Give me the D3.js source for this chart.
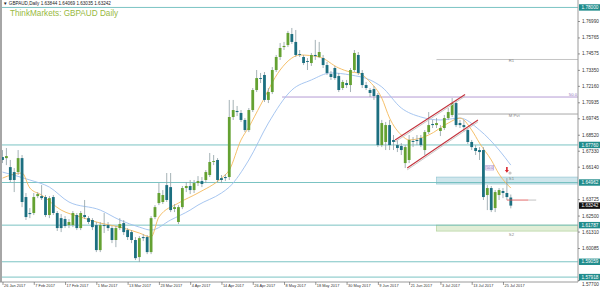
<!DOCTYPE html>
<html lang="en">
<head>
<meta charset="UTF-8">
<title>GBPAUD Daily</title>
<style>
  body { margin: 0; background: #fff; }
  svg { display: block; font-family: "Liberation Sans", Arial, sans-serif; }
  .paxis text { font-size: 4.7px; fill: #333; }
  .daxis text { font-size: 3.9px; fill: #333; }
  .paxis line, .daxis line { stroke: #555; stroke-width: 0.6; }
  .paxis path, .daxis path { display: none; }
</style>
</head>
<body>
<svg width="600" height="293"></svg>
<script src="https://d3js.org/d3.v7.min.js"></script>
<script>
// bar 0 = 26 Jan 2017, one bar per weekday
const dateTicks = [0, 8, 16, 24, 32, 40, 48, 56, 64, 72, 80, 88, 96, 104, 112, 120, 128];
const dateLabels = ["26 Jan 2017", "7 Feb 2017", "17 Feb 2017", "1 Mar 2017", "13 Mar 2017", "23 Mar 2017",
  "4 Apr 2017", "14 Apr 2017", "26 Apr 2017", "8 May 2017", "18 May 2017", "30 May 2017", "9 Jun 2017",
  "21 Jun 2017", "3 Jul 2017", "13 Jul 2017", "25 Jul 2017"];

const opens = [1.6686,1.6678,1.6611,1.6574,1.6574,1.6678,1.6388,1.6269,1.6269,1.6395,1.6395,1.6388,1.6254,1.6388,1.6269,1.6231,1.6224,1.6179,1.6179,1.6254,
  1.6157,1.6254,1.6231,1.6217,1.6179,1.5993,1.6179,1.6179,1.6157,1.6068,1.6157,1.6194,1.6142,1.6127,1.6068,1.5941,1.6090,1.6090,1.5978,1.6239,
  1.6343,1.6351,1.6477,1.6462,1.6299,1.6202,1.6313,1.6455,1.6470,1.6440,1.6492,1.6507,1.6515,1.6552,1.6649,1.6664,1.6529,1.6537,1.6537,1.6984,
  1.7029,1.7014,1.6962,1.6887,1.7036,1.7185,1.7274,1.7297,1.7111,1.7170,1.7334,1.7431,1.7505,1.7520,1.7602,1.7543,1.7453,1.7431,1.7401,1.7386,
  1.7446,1.7431,1.7423,1.7371,1.7304,1.7349,1.7289,1.7200,1.7237,1.7222,1.7334,1.7446,1.7312,1.7222,1.7185,1.7192,1.7148,1.6775,1.6798,1.6924,
  1.6813,1.6775,1.6768,1.6641,1.6664,1.6805,1.6813,1.6827,1.6738,1.6872,1.6932,1.6924,1.6880,1.6902,1.6976,1.6999,1.7088,1.6939,1.6924,1.6887,
  1.6798,1.6753,1.6738,1.6738,1.6403,1.6455,1.6306,1.6403,1.6433,1.6418,1.63844];
const highs = [1.6738,1.6753,1.6664,1.6604,1.6738,1.6701,1.6418,1.6306,1.6418,1.6425,1.6477,1.6403,1.6395,1.6403,1.6284,1.6261,1.6246,1.6224,1.6284,1.6269,
  1.6284,1.6366,1.6246,1.6231,1.6202,1.6202,1.6269,1.6202,1.6172,1.6172,1.6231,1.6217,1.6157,1.6142,1.6090,1.6097,1.6112,1.6105,1.6246,1.6328,
  1.6492,1.6440,1.6567,1.6567,1.6336,1.6328,1.6470,1.6500,1.6515,1.6515,1.6544,1.6537,1.6589,1.6716,1.6701,1.6678,1.6552,1.6559,1.7111,1.7111,
  1.7066,1.7036,1.6976,1.7051,1.7200,1.7334,1.7312,1.7319,1.7200,1.7356,1.7446,1.7535,1.7543,1.7625,1.7647,1.7632,1.7483,1.7446,1.7423,1.7461,
  1.7558,1.7543,1.7446,1.7394,1.7327,1.7364,1.7312,1.7260,1.7260,1.7349,1.7483,1.7468,1.7334,1.7245,1.7200,1.7215,1.7163,1.6962,1.6947,1.6962,
  1.6850,1.6813,1.6790,1.6775,1.6850,1.6835,1.6850,1.6850,1.6887,1.7021,1.6962,1.6976,1.6924,1.6999,1.7051,1.7125,1.7111,1.6962,1.6962,1.6902,
  1.6813,1.6775,1.6760,1.6760,1.6477,1.6470,1.6440,1.6455,1.6455,1.6529,1.64069];
const lows = [1.6641,1.6626,1.6500,1.6425,1.6552,1.6313,1.6217,1.6231,1.6254,1.6380,1.6366,1.6239,1.6231,1.6254,1.6135,1.6127,1.6157,1.6157,1.6164,1.6142,
  1.6142,1.6224,1.6187,1.6142,1.5978,1.5978,1.6120,1.6135,1.6045,1.6015,1.6142,1.6105,1.6068,1.6045,1.5919,1.5904,1.6060,1.5963,1.5963,1.6224,
  1.6328,1.6336,1.6351,1.6276,1.6276,1.6187,1.6298,1.6425,1.6410,1.6418,1.6470,1.6462,1.6492,1.6537,1.6626,1.6500,1.6492,1.6507,1.6515,1.6962,
  1.6991,1.6947,1.6872,1.6872,1.7021,1.7170,1.7237,1.7096,1.7088,1.7155,1.7319,1.7409,1.7483,1.7505,1.7528,1.7431,1.7431,1.7371,1.7334,1.7364,
  1.7409,1.7423,1.7349,1.7297,1.7260,1.7260,1.7170,1.7185,1.7200,1.7170,1.7319,1.7297,1.7200,1.7185,1.7133,1.7111,1.6760,1.6760,1.6738,1.6738,
  1.6738,1.6723,1.6701,1.6604,1.6641,1.6760,1.6775,1.6760,1.6701,1.6857,1.6902,1.6902,1.6842,1.6887,1.6962,1.6984,1.6909,1.6902,1.6872,1.6783,
  1.6738,1.6701,1.6664,1.6366,1.6291,1.6276,1.6276,1.6366,1.6380,1.6366,1.63035];
const closes = [1.6664,1.6693,1.6515,1.6515,1.6678,1.6351,1.6239,1.6261,1.6388,1.6410,1.6380,1.6254,1.6380,1.6269,1.6157,1.6157,1.6172,1.6202,1.6269,1.6157,
  1.6269,1.6239,1.6202,1.6164,1.5993,1.6179,1.6172,1.6157,1.6068,1.6157,1.6187,1.6127,1.6090,1.6068,1.5933,1.6082,1.6082,1.5978,1.6231,1.6313,
  1.6418,1.6403,1.6366,1.6291,1.6313,1.6313,1.6455,1.6470,1.6440,1.6492,1.6507,1.6485,1.6574,1.6649,1.6656,1.6515,1.6515,1.6529,1.6984,1.7036,
  1.7021,1.6962,1.6887,1.7036,1.7185,1.7274,1.7267,1.7111,1.7170,1.7334,1.7431,1.7498,1.7513,1.7610,1.7543,1.7446,1.7446,1.7386,1.7394,1.7446,
  1.7438,1.7468,1.7371,1.7312,1.7282,1.7274,1.7185,1.7245,1.7222,1.7334,1.7461,1.7312,1.7222,1.7200,1.7163,1.7140,1.6775,1.6939,1.6924,1.6775,
  1.6798,1.6753,1.6738,1.6760,1.6813,1.6798,1.6805,1.6775,1.6872,1.6924,1.6924,1.6939,1.6902,1.6976,1.7021,1.7088,1.6924,1.6924,1.6909,1.6798,
  1.6760,1.6731,1.6723,1.6388,1.6455,1.6291,1.6425,1.6440,1.6418,1.6388,1.63242];

// moving averages: [bar, price]
const maFast = [[0,1.6529],[5,1.6567],[7,1.6455],[10,1.6403],[15,1.6291],[20,1.6239],[25,1.6194],[30,1.6164],[35,1.6120],[38,1.6090],
  [40,1.6239],[45,1.6343],[50,1.6418],[56,1.6529],[58,1.6589],[61,1.6813],[63,1.6909],[66,1.7073],[71,1.7334],[74,1.7423],[76,1.7446],
  [81,1.7431],[86,1.7349],[89,1.7319],[91,1.7312],[94,1.7245],[97,1.7125],[99,1.6976],[102,1.6850],[104,1.6813],[109,1.6850],[114,1.6939],
  [117,1.6976],[120,1.6887],[122,1.6790],[125,1.6664],[127,1.6559],[130,1.6455]];
const maSlow = [[0,1.6574],[7,1.6515],[12,1.6462],[17,1.6351],[25,1.6291],[30,1.6217],[35,1.6164],[38,1.6142],[43,1.6217],[48,1.6291],
  [50,1.6328],[56,1.6418],[58,1.6462],[63,1.6664],[68,1.6939],[74,1.7185],[79,1.7260],[84,1.7312],[89,1.7297],[94,1.7260],[97,1.7208],
  [102,1.7051],[107,1.6984],[112,1.6962],[117,1.6976],[122,1.6887],[127,1.6738],[130,1.6626]];

const priceTicks = [1.76990, 1.75765, 1.74575, 1.73350, 1.72160, 1.70935, 1.69745, 1.68520, 1.67330, 1.66140, 1.63725, 1.62500, 1.61310, 1.60085, 1.57700];
const levels = [1.78000, 1.67760, 1.64962, 1.61787, 1.59059, 1.57918];
const lastPrice = 1.63242;

// channel lines [bar, price] pairs
const channelUpper = [[100.4, 1.68125], [118.3, 1.71516]];
const channelLower = [[103.5, 1.66039], [121.6, 1.69615]];

const svg = d3.select("svg");
const plotR = 578, plotB = 282;

const x = d3.scaleLinear().domain([0, 130]).range([2.5, 510.8]);
const y = d3.scaleLinear().domain([1.76990, 1.60085]).range([21, 248]);

svg.append("rect").attr("width", 600).attr("height", 293).attr("fill", "#fff");
svg.append("defs").append("clipPath").attr("id", "clip")
  .append("rect").attr("x", 2).attr("y", 0).attr("width", plotR - 2).attr("height", plotB);

const plot = svg.append("g").attr("clip-path", "url(#clip)");

// shaded zones
const zones = [
  { from: 111, top: 1.65368, bottom: 1.64847, fill: "#cfe6ec", stroke: "#8cc3cf" },
  { from: 111, top: 1.61792, bottom: 1.61345, fill: "#e1eed6", stroke: "#a9cc8e" }
];
plot.selectAll(".zone").data(zones).enter().append("rect")
  .attr("x", d => x(d.from)).attr("width", d => plotR - x(d.from))
  .attr("y", d => y(d.top)).attr("height", d => y(d.bottom) - y(d.top))
  .attr("fill", d => d.fill).attr("stroke", d => d.stroke).attr("stroke-width", 0.6);

// full-width support/resistance levels
plot.selectAll(".lvl").data(levels).enter().append("line")
  .attr("x1", 0).attr("x2", plotR)
  .attr("y1", d => y(d)).attr("y2", d => y(d))
  .attr("stroke", "#6cbcbc").attr("stroke-width", 0.9);

// pivot lines
const pivots = [
  { from: 111, price: 1.74124, label: "R1", color: "#bdbdbd" },
  { from: 116.5, price: 1.70062, label: "M Pvt", color: "#9e9e9e" }
];
plot.selectAll(".pv").data(pivots).enter().append("line")
  .attr("x1", d => x(d.from)).attr("x2", plotR)
  .attr("y1", d => y(d.price)).attr("y2", d => y(d.price))
  .attr("stroke", d => d.color).attr("stroke-width", 0.9);
const pivotTags = pivots.concat([
  { price: 1.65368, label: "S1" },
  { price: 1.61345, label: "S2", below: true }
]);
plot.selectAll(".pvt").data(pivotTags).enter().append("text")
  .attr("x", x(129.5)).attr("y", d => d.below ? y(d.price) + 5 : y(d.price) + 2.5)
  .attr("font-size", 4.2).attr("fill", "#888").text(d => d.label);

// fib 50% line
plot.append("line")
  .attr("x1", x(71.5)).attr("x2", plotR)
  .attr("y1", y(1.71328)).attr("y2", y(1.71328))
  .attr("stroke", "#b49bd4").attr("stroke-width", 1);
plot.append("text").attr("x", plotR - 1).attr("y", y(1.71328) - 1)
  .attr("text-anchor", "end").attr("font-size", 4.2).attr("fill", "#8d6fb8").text("50.0");

// moving averages
const maLine = d3.line().x(d => x(d[0])).y(d => y(d[1])).curve(d3.curveMonotoneX);
plot.append("path").datum(maSlow).attr("d", maLine)
  .attr("fill", "none").attr("stroke", "#9dbfee").attr("stroke-width", 0.9);
plot.append("path").datum(maFast).attr("d", maLine)
  .attr("fill", "none").attr("stroke", "#f4b95a").attr("stroke-width", 0.9);

// candles
const bars = closes.map((c, i) => ({ i, o: opens[i], h: highs[i], l: lows[i], c }));
const bodyW = 2.8;
plot.selectAll(".wick").data(bars).enter().append("line")
  .attr("x1", d => x(d.i)).attr("x2", d => x(d.i))
  .attr("y1", d => y(d.h)).attr("y2", d => y(d.l))
  .attr("stroke", "#8e9ea3").attr("stroke-width", 0.8);
plot.selectAll(".body").data(bars).enter().append("rect")
  .attr("x", d => x(d.i) - bodyW / 2).attr("width", bodyW)
  .attr("y", d => y(Math.max(d.o, d.c)))
  .attr("height", d => Math.max(0.8, Math.abs(y(d.o) - y(d.c))))
  .attr("fill", d => d.c >= d.o ? "#64a132" : "#1c6f80");

// channel
[channelUpper, channelLower].forEach(seg => {
  plot.append("line")
    .attr("x1", x(seg[0][0])).attr("y1", y(seg[0][1]) + 1.8)
    .attr("x2", x(seg[1][0])).attr("y2", y(seg[1][1]) + 1.8)
    .attr("stroke", "#c9c9c9").attr("stroke-width", 1);
  plot.append("line")
    .attr("x1", x(seg[0][0])).attr("y1", y(seg[0][1]))
    .attr("x2", x(seg[1][0])).attr("y2", y(seg[1][1]))
    .attr("stroke", "#c4323c").attr("stroke-width", 1.1);
});

// small fib tag next to the breakdown candle
plot.append("rect").attr("x", x(123.6)).attr("y", y(1.6604) - 2.4).attr("width", 8).attr("height", 4.4)
  .attr("fill", "#f3eefa").attr("stroke", "#a58bd0").attr("stroke-width", 0.5);
plot.append("text").attr("x", x(123.6) + 4).attr("y", y(1.6604) + 1.3).attr("text-anchor", "middle")
  .attr("font-size", 3.6).attr("fill", "#7d5fb0").text("50.0");

// entry line + arrow
plot.append("line").attr("x1", x(129)).attr("x2", x(134.5))
  .attr("y1", y(1.63655)).attr("y2", y(1.63655))
  .attr("stroke", "#e05a5a").attr("stroke-width", 0.9);
plot.append("line").attr("x1", x(134.5)).attr("x2", x(136.5))
  .attr("y1", y(1.63655)).attr("y2", y(1.63655))
  .attr("stroke", "#bbb").attr("stroke-width", 0.9);
plot.append("circle").attr("cx", x(129.8)).attr("cy", y(1.6567)).attr("r", 1.6).attr("fill", "#c8c8c8");
plot.append("path")
  .attr("transform", `translate(${x(129)},${y(1.6589)})`)
  .attr("d", "M-0.8,-3 L0.8,-3 L0.8,0 L2,0 L0,2.6 L-2,0 L-0.8,0 Z")
  .attr("fill", "#d8262e");

// frame
svg.append("rect").attr("x", 0).attr("y", 0).attr("width", 2).attr("height", plotB).attr("fill", "#a6a6a6");
svg.append("line").attr("x1", plotR).attr("x2", plotR).attr("y1", 0).attr("y2", plotB)
  .attr("stroke", "#9a9a9a").attr("stroke-width", 1);
svg.append("line").attr("x1", 0).attr("x2", plotR).attr("y1", plotB).attr("y2", plotB)
  .attr("stroke", "#9a9a9a").attr("stroke-width", 1);

// price axis
const pax = svg.append("g").attr("class", "paxis").attr("transform", `translate(${plotR},0)`)
  .call(d3.axisRight(y).tickValues(priceTicks).tickSize(2).tickPadding(2).tickFormat(d3.format(".5f")));
// lowest tick label sits just under its boxed neighbour
pax.selectAll(".tick").filter(d => d === 1.57700).select("text").attr("dy", "1.25em");

// boxed labels
const boxes = levels.map(v => ({ v, fill: "#208c8c" })).concat([{ v: lastPrice, fill: "#111" }]);
const bx = svg.append("g");
bx.selectAll("rect").data(boxes).enter().append("rect")
  .attr("x", plotR + 1).attr("width", 21).attr("y", d => y(d.v) - 3.2).attr("height", 6.4)
  .attr("fill", d => d.fill);
bx.selectAll("text").data(boxes).enter().append("text")
  .attr("x", plotR + 3.5).attr("y", d => y(d.v) + 1.7)
  .attr("font-size", 4.7).attr("fill", "#fff").text(d => d3.format(".5f")(d.v));

// date axis
const dax = svg.append("g").attr("class", "daxis").attr("transform", `translate(0,${plotB})`)
  .call(d3.axisBottom(x).tickValues(dateTicks).tickSize(3).tickFormat((d, i) => dateLabels[i]));
dax.selectAll("text").attr("text-anchor", "start").attr("dx", "1").attr("dy", "-0.2em");

// headers
svg.append("text").attr("x", 3).attr("y", 5).attr("font-size", 4.6).attr("fill", "#222")
  .text("\u25BC GBPAUD,Daily  1.63844 1.64069 1.63035 1.63242");
svg.append("text").attr("x", 10).attr("y", 16).attr("font-size", 8.2).attr("fill", "#98b941")
  .text("ThinkMarkets: GBPAUD  Daily");
</script>
</body>
</html>
